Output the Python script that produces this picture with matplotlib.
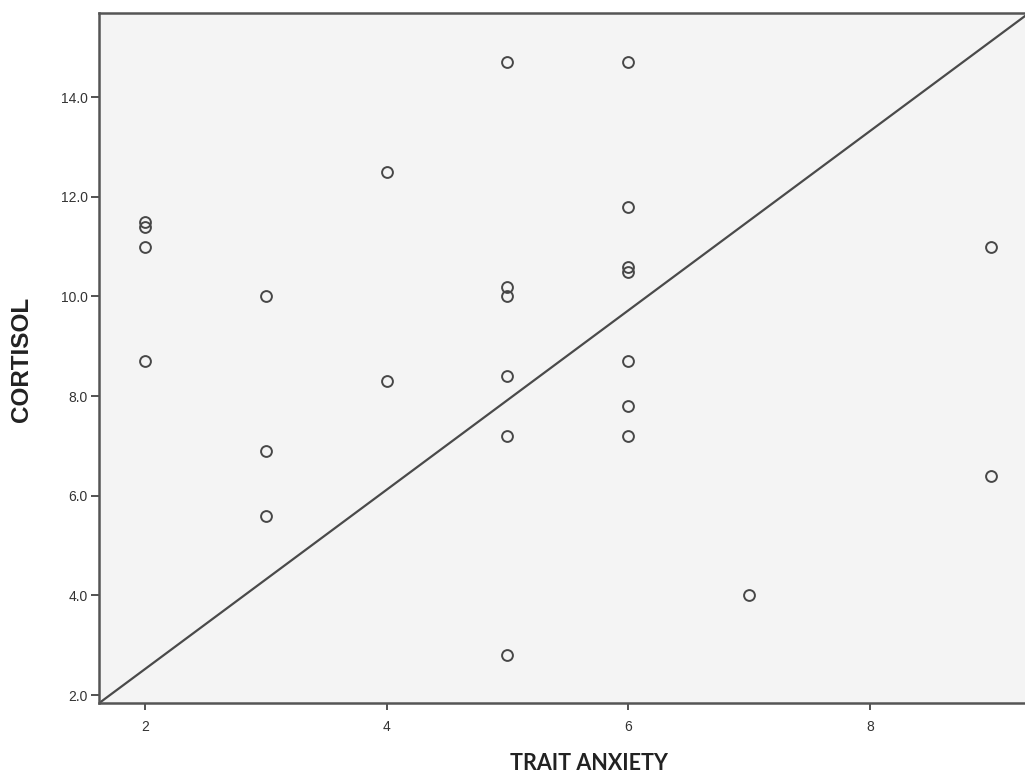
import matplotlib
matplotlib.use("Agg")
import matplotlib.pyplot as plt
import numpy as np

# Data (trait anxiety vs cortisol)
trait_anxiety = [2, 2, 2, 2,
                 3, 3, 3,
                 4, 4,
                 5, 5, 5, 5, 5, 5,
                 6, 6, 6, 6, 6, 6, 6,
                 7,
                 9, 9]
cortisol = [11.5, 11.4, 11.0, 8.7,
            10.0, 6.9, 5.6,
            12.5, 8.3,
            14.7, 10.2, 10.0, 8.4, 7.2, 2.8,
            14.7, 11.8, 10.6, 10.5, 8.7, 7.8, 7.2,
            4.0,
            11.0, 6.4]

# reference line drawn by SPSS
line_slope = 1.8
line_intercept = -1.08

x_ticks = [2, 4, 6, 8]
y_ticks = [2.0, 4.0, 6.0, 8.0, 10.0, 12.0, 14.0]

fig = plt.figure(figsize=(10.25, 7.76), dpi=100)
ax = fig.add_axes([99 / 1025, 1 - 703 / 776, 1 - 99 / 1025 + 0.002, (703 - 13) / 776])
ax.set_facecolor("#f4f4f4")

xmin, xmax = 1.62, 9.30
ymin, ymax = 1.84, 15.69

ax.plot(trait_anxiety, cortisol, linestyle="none", marker="o", ms=7.8,
        mfc="none", mec="#474747", mew=1.4)

xl = np.array([xmin, xmax])
ax.plot(xl, line_slope * xl + line_intercept, color="#4a4a4a", lw=1.6)

ax.set_xlim(xmin, xmax)
ax.set_ylim(ymin, ymax)
ax.set_xticks(x_ticks)
ax.set_yticks(y_ticks)
ax.set_yticklabels([f"{v:.1f}" for v in y_ticks])

for s in ["left", "bottom", "top"]:
    ax.spines[s].set_color("#555555")
    ax.spines[s].set_linewidth(1.8)
ax.spines["right"].set_visible(False)

ax.tick_params(axis="both", direction="out", length=6, width=1.3, color="#444444",
               labelsize=10, labelcolor="#333333", pad=2)
ax.tick_params(axis="x", length=5, pad=7)
for lab in ax.get_xticklabels() + ax.get_yticklabels():
    lab.set_family("Liberation Sans")

fig.text(22 / 1025, 1 - 359 / 776, "CORTISOL", rotation=90, ha="center", va="center",
         fontsize=17.5, fontweight="bold", family="Liberation Sans", color="#222222")
fig.text(589 / 1025, 1 - 764 / 776, "TRAIT ANXIETY", ha="center", va="center",
         fontsize=15.5, fontweight="bold", family="Lato", color="#222222")

fig.savefig("out.png", dpi=100)
